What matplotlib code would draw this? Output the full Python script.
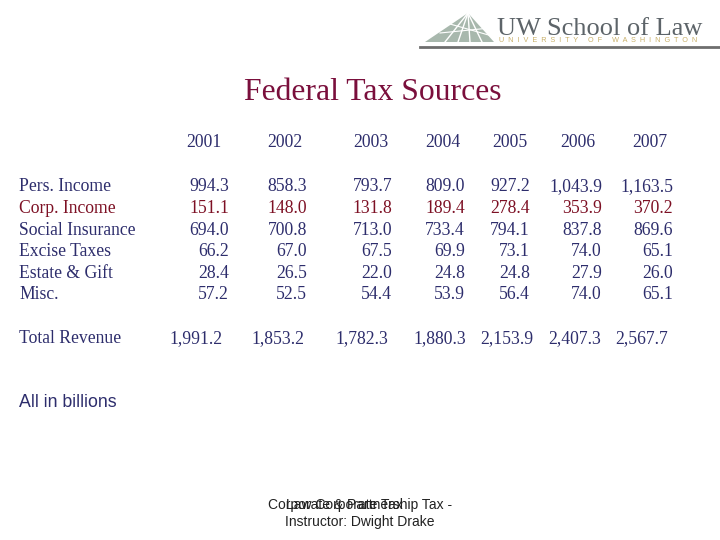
import matplotlib
matplotlib.use("Agg")
import matplotlib.pyplot as plt
from matplotlib.patches import Polygon

years = ["2001", "2002", "2003", "2004", "2005", "2006", "2007"]
categories = ["Pers. Income", "Corp. Income", "Social Insurance", "Excise Taxes", "Estate & Gift", "Misc."]
pers_income = [994.3, 858.3, 793.7, 809.0, 927.2, 1043.9, 1163.5]
corp_income = [151.1, 148.0, 131.8, 189.4, 278.4, 353.9, 370.2]
social_ins = [694.0, 700.8, 713.0, 733.4, 794.1, 837.8, 869.6]
excise = [66.2, 67.0, 67.5, 69.9, 73.1, 74.0, 65.1]
estate_gift = [28.4, 26.5, 22.0, 24.8, 24.8, 27.9, 26.0]
misc = [57.2, 52.5, 54.4, 53.9, 56.4, 74.0, 65.1]
total_revenue = [1991.2, 1853.2, 1782.3, 1880.3, 2153.9, 2407.3, 2567.7]
rows = [pers_income, corp_income, social_ins, excise, estate_gift, misc]

NAVY = "#2d2d6c"
RED = "#7d1024"
TITLE = "#7a0f3c"
SERIF = "Liberation Serif"
SANS = "Liberation Sans"

fig = plt.figure(figsize=(7.2, 5.4), dpi=100)
ax = fig.add_axes([0, 0, 1, 1])
ax.set_xlim(0, 720)
ax.set_ylim(540, 0)
ax.axis("off")

# logo
ax.add_patch(Polygon([(425, 42), (468, 13), (494, 42)], closed=True, color="#a8b8ad", lw=0))
for bx in [445, 458, 470, 482]:
    ax.plot([468, bx], [13, 42], color="white", lw=1.0)
ax.plot([440, 490], [33, 28], color="white", lw=0.8)
ax.plot([450, 492], [24, 36], color="white", lw=0.8)
ax.text(497, 35, "UW School of Law", fontsize=19, family=SERIF, color="#5d6469", va="baseline", ha="left")
uw = "UNIVERSITY OF WASHINGTON"
spaced = "  ".join(w.replace("", " ").strip().replace(" ", "  ") for w in uw.split(" "))
spaced = "     ".join("  ".join(list(w)) for w in uw.split(" "))
t_uw = ax.text(499, 42, spaced, fontsize=5.5, family=SANS, color="#c9b06a", va="baseline", ha="left")
fig.canvas.draw()
w = t_uw.get_window_extent().width
t_uw.set_fontsize(5.5 * 200 / w)

ax.plot([420, 720], [47, 47], color="#6e6e6e", lw=2)

# title
ax.text(373, 100, "Federal Tax Sources", fontsize=22.8, family=SERIF, color=TITLE, ha="center", va="baseline")

# table
year_x = [204, 285, 371, 443, 510, 578, 650]
col_right = [229, 307, 392, 465, 530, 602, 673]
tot_right = [223, 304, 388, 466, 533, 601, 668]
row_y = [191, 213, 235, 256, 278, 299]
FS = 12.7

for yr, x in zip(years, year_x):
    ax.text(x, 147, yr, fontsize=FS, family=SERIF, color=NAVY, ha="center", va="baseline")

for cat, vals, y in zip(categories, rows, row_y):
    c = RED if cat.startswith("Corp") else NAVY
    ax.text(19, y, cat, fontsize=FS, family=SERIF, color=c, ha="left", va="baseline")
    for v, x in zip(vals, col_right):
        ax.text(x, y, f"{v:,.1f}", fontsize=FS, family=SERIF, color=c, ha="right", va="baseline")

ax.text(19, 343, "Total Revenue", fontsize=FS, family=SERIF, color=NAVY, ha="left", va="baseline")
for v, x in zip(total_revenue, tot_right):
    ax.text(x, 343, f"{v:,.1f}", fontsize=FS, family=SERIF, color=NAVY, ha="right", va="baseline")

ax.text(19, 407, "All in billions", fontsize=12.8, family=SANS, color=NAVY, ha="left", va="baseline")

# footer (the reference shows two overlapping strings on the first line)
ax.text(360, 509, "Corporate & Partnership Tax -", fontsize=10, family=SANS, color="#222222", ha="center", va="baseline")
ax.text(286, 509, "Law Corporate Tax", fontsize=10, family=SANS, color="#222222", ha="left", va="baseline")
ax.text(360, 526, "Instructor: Dwight Drake", fontsize=10, family=SANS, color="#222222", ha="center", va="baseline")

fig.savefig("out.png", dpi=100)
